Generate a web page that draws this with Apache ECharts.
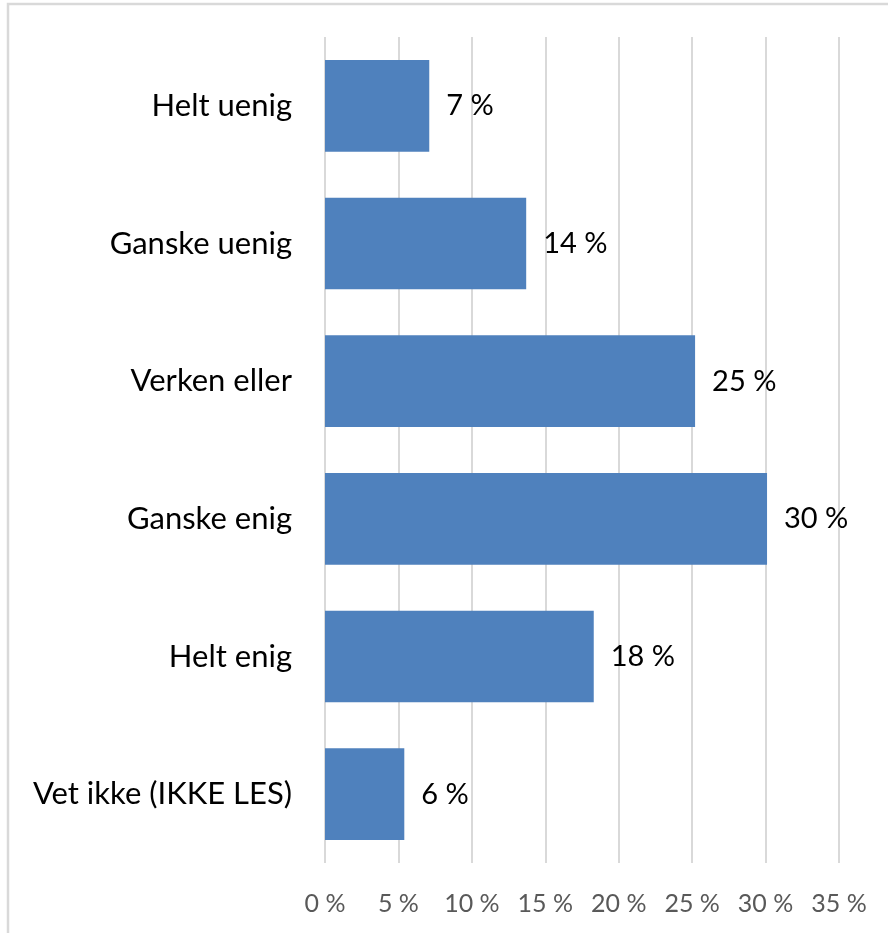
<!DOCTYPE html>
<html>
<head>
<meta charset="utf-8">
<script src="https://cdn.jsdelivr.net/npm/echarts@6/dist/echarts.min.js"></script>
<style>
html,body{margin:0;padding:0;background:#fff;}
#chart{width:888px;height:933px;}
</style>
</head>
<body>
<div id="chart"></div>
<script>
const categories = ["Helt uenig", "Ganske uenig", "Verken eller", "Ganske enig", "Helt enig", "Vet ikke (IKKE LES)"];
const values = [7.1, 13.7, 25.2, 30.1, 18.3, 5.4];
const valueLabels = ["7 %", "14 %", "25 %", "30 %", "18 %", "6 %"];
const tickValues = [0, 5, 10, 15, 20, 25, 30, 35];

const chart = echarts.init(document.getElementById('chart'), null, {renderer: 'canvas'});
const FONT = 'Lato';
chart.setOption({
  animation: false,
  backgroundColor: '#fff',
  graphic: [{
    type: 'rect',
    shape: {x: 8, y: 4, width: 900, height: 950},
    style: {fill: 'none', stroke: '#d9d9d9', lineWidth: 2.5},
    silent: true
  }],
  grid: {left: 325, right: 49, top: 37, bottom: 70},
  xAxis: {
    type: 'value',
    min: 0, max: 35, interval: 5,
    axisLine: {show: false},
    axisTick: {show: false},
    splitLine: {show: true, lineStyle: {color: '#d9d9d9', width: 2}},
    axisLabel: {
      color: '#595959', fontFamily: FONT, fontSize: 25, margin: 28,
      formatter: v => tickValues.includes(v) ? v + ' %' : ''
    }
  },
  yAxis: {
    type: 'category',
    inverse: true,
    data: categories,
    axisLine: {show: false},
    axisTick: {show: false},
    axisLabel: {color: '#000', fontFamily: FONT, fontSize: 31, margin: 33}
  },
  series: [{
    type: 'bar',
    data: values,
    barCategoryGap: '33.4%',
    itemStyle: {color: '#4f81bd'},
    label: {
      show: true, position: 'right', distance: 17,
      color: '#000', fontFamily: FONT, fontSize: 29,
      formatter: p => valueLabels[p.dataIndex]
    }
  }]
});
</script>
</body>
</html>
